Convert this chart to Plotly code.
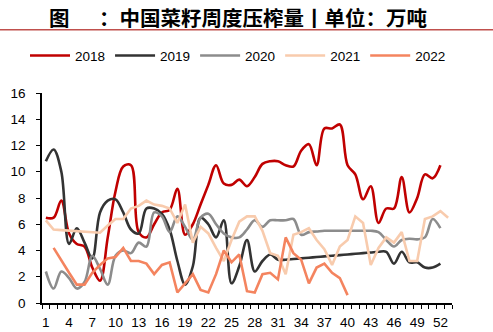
import plotly.graph_objects as go

weeks52 = list(range(1, 53))
weeks53 = list(range(1, 54))
weeks22 = list(range(2, 41))

y2018 = [6.5, 6.5, 7.8, 5.3, 4.5, 4.3, 2.7, 1.7, 5.0, 8.5, 10.4, 10.5, 5.4, 5.0, 6.0, 6.9,
         7.1, 8.7, 5.2, 6.0, 7.5, 9.0, 10.5, 9.1, 9.0, 9.4, 8.9, 9.6, 10.6, 10.8, 10.8, 10.5,
         10.4, 11.6, 12.1, 10.5, 13.3, 13.3, 13.6, 10.5, 9.8, 7.9, 8.9, 6.1, 7.2, 7.2, 9.6, 6.9,
         8.0, 9.8, 9.5, 10.5]
y2019 = [10.8, 11.7, 10.0, 4.5, 5.7, 4.6, 3.4, 6.9, 7.8, 7.9, 6.9, 5.6, 5.3, 7.2, 7.2, 6.8,
         5.6, 3.2, 1.4, 2.8, 6.5, 6.0, 5.0, 6.3, 1.5, 2.8, 4.8, 2.4, 3.2, 3.7, 3.3, 3.3,
         3.35, 3.4, 3.45, 3.5, 3.55, 3.6, 3.65, 3.7, 3.75, 3.8, 3.85, 3.9, 3.9, 3.0, 3.9, 3.1,
         3.1, 2.7, 2.7, 3.0]
y2020 = [2.4, 1.1, 2.4, 1.9, 1.1, 1.6, 3.6, 2.6, 1.4, 3.6, 4.0, 3.8, 4.6, 4.3, 6.9, 6.6,
         5.4, 6.6, 5.8, 4.8, 6.5, 6.8, 6.0, 5.3, 5.0, 5.0, 5.6, 6.3, 5.8, 6.3, 6.3, 6.3,
         6.4, 5.2, 5.4, 5.45, 5.5, 5.5, 5.5, 5.5, 5.5, 5.5, 5.5, 5.4, 4.8, 4.3, 4.8, 4.9,
         4.85, 5.0, 6.4, 5.7]
y2021 = [6.3, 5.6, 5.55, 5.5, 5.5, 5.45, 5.4, 5.35, 5.9, 6.4, 6.4, 7.2, 7.4, 7.8, 7.5, 7.4,
         7.2, 6.1, 7.5, 4.6, 5.8, 5.3, 4.2, 3.2, 4.8, 6.2, 6.6, 6.6, 5.5, 3.8, 3.6, 2.2,
         5.2, 5.4, 5.7, 4.8, 4.1, 2.9, 4.3, 4.8, 6.6, 6.1, 2.9, 4.2, 5.0, 4.6, 5.4, 3.2,
         3.2, 6.4, 6.6, 7.0, 6.5]
y2022 = [4.2, 3.2, 2.3, 1.4, 1.4, 2.3, 2.9, 3.4, 3.5, 4.2, 3.2, 3.2, 3.0, 2.2, 2.9, 3.1,
         0.8, 1.5, 2.2, 1.0, 0.8, 2.2, 4.0, 3.1, 3.7, 0.9, 0.8, 2.2, 2.3, 1.8, 5.0, 3.8,
         3.3, 1.5, 2.7, 3.0, 2.3, 1.9, 0.6]

series = [
    ("2018", weeks52, y2018, "#c00000", "spline"),
    ("2019", weeks52, y2019, "#333333", "spline"),
    ("2020", weeks52, y2020, "#8c8c8c", "spline"),
    ("2021", weeks53, y2021, "#f8cbad", "linear"),
    ("2022", weeks22, y2022, "#f4845f", "linear"),
]

xlabels = list(range(1, 53, 3))
yticks = list(range(0, 17, 2))

fig = go.Figure()
for name, xs, ys, color, shape in series:
    fig.add_trace(go.Scatter(x=xs, y=ys, name=name, mode="lines",
                             line=dict(color=color, width=2.6, shape=shape)))

L, T, W, H = 42, 93.3, 410, 210
font = "Arial, Liberation Sans, sans-serif"
cjk = "Noto Sans CJK SC, sans-serif"

fig.update_layout(
    width=493, height=332,
    margin=dict(l=L, r=493 - L - W, t=T, b=332 - T - H),
    paper_bgcolor="white", plot_bgcolor="white",
    showlegend=True,
    legend=dict(orientation="h", xref="paper", yref="paper",
                x=(25 - L) / W, xanchor="left", y=(T + H - 56) / H, yanchor="middle",
                font=dict(family=font, size=13.5, color="#000"),
                itemwidth=40, bgcolor="rgba(0,0,0,0)"),
    xaxis=dict(range=[0.5, 53.5], tickvals=xlabels, ticktext=[str(v) for v in xlabels],
               ticks="", showgrid=False, zeroline=False, automargin=False,
               showline=True, linecolor="#000", linewidth=1.5,
               tickfont=dict(family=font, size=13.5, color="#000"),
               ticklabelstandoff=6,
               minor=dict(tick0=0.5, dtick=1, ticks="outside", ticklen=4,
                          tickcolor="#000", tickwidth=1, showgrid=False)),
    yaxis=dict(range=[0, 16], tickvals=yticks, ticks="outside", ticklen=4,
               tickcolor="#000", showgrid=False, zeroline=False, automargin=False,
               showline=True, linecolor="#000", linewidth=1.5,
               tickfont=dict(family=font, size=13.5, color="#000"),
               ticklabelstandoff=8),
    annotations=[
        dict(text="<b>图</b>", xref="paper", yref="paper", x=(59 - L) / W,
             y=(T + H - 17) / H, xanchor="center", yanchor="middle", showarrow=False,
             font=dict(family=cjk, size=20.5, color="#000")),
        dict(text="<b>：中国菜籽周度压榨量丨单位：万吨</b>", xref="paper", yref="paper",
             x=(97 - L) / W, y=(T + H - 17) / H, xanchor="left", yanchor="middle",
             showarrow=False, font=dict(family=cjk, size=20.5, color="#000")),
    ],
    shapes=[
        dict(type="line", xref="paper", yref="paper", x0=-L / W, x1=(493 - L) / W,
             y0=(T + H - 30) / H, y1=(T + H - 30) / H,
             line=dict(color="#c0504d", width=1.5)),
    ],
)

fig.write_html("out.html")
